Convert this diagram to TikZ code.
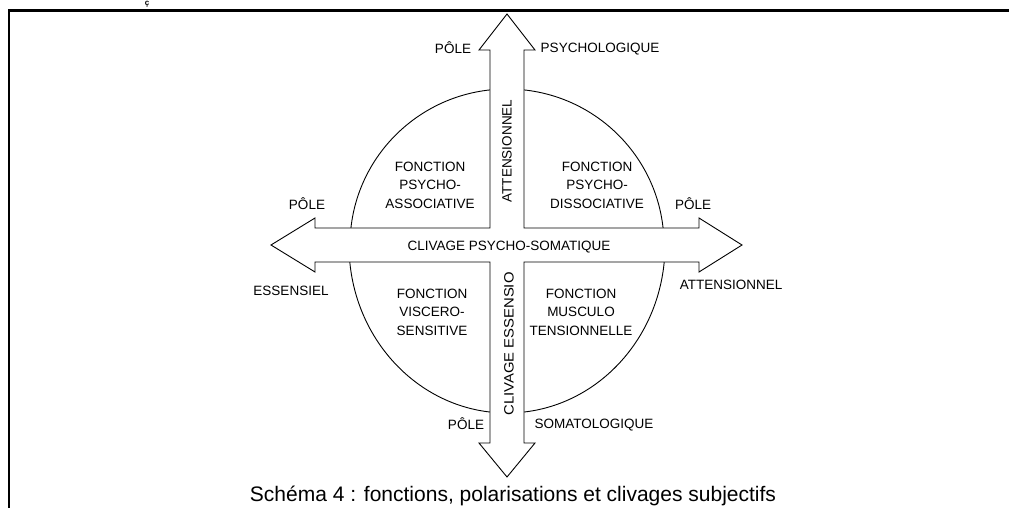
\documentclass[tikz,border=0pt]{standalone}
\usepackage{fontspec}
\setmainfont{Liberation Sans}

\tikzset{
  lbl/.style={font=\fontsize{13.5}{18.5}\selectfont, inner sep=0pt, text depth=0pt},
  fonc/.style={lbl, align=center},
  vlbl/.style={lbl, rotate=90},
  thinline/.style={line width=0.9pt, line join=miter},
}

\begin{document}
\begin{tikzpicture}[x=1pt,y=-1pt]
  \useasboundingbox (0,0) rectangle (1009,508);
  % page frame
  \draw[line width=2.6pt] (9,508) -- (9,10.5) -- (1009,10.5);
  \node[font=\bfseries\fontsize{8}{8}\selectfont, anchor=base, inner sep=0pt] (cedil) at (147,5.5) {ç};
  % the circle, upper and lower halves
  \draw[thinline] (350,245) arc[start angle=180,end angle=360,x radius=157,y radius=156];
  \draw[thinline] (665,245) arc[start angle=0,end angle=180,x radius=158,y radius=168];
  % the cross of arrows
  \draw[thinline,fill=white] (507,14) -- (535,50) -- (524,50) -- (524,228) -- (699,228) -- (699,218)
    -- (742,245) -- (699,272) -- (699,262) -- (524,262) -- (524,443) -- (535,443) -- (507,477)
    -- (479,443) -- (490,443) -- (490,262) -- (315,262) -- (315,272) -- (271,245) -- (315,218)
    -- (315,228) -- (490,228) -- (490,50) -- (479,50) -- cycle;
  % poles
  \node[lbl] (poleN) at (453,48) {PÔLE};
  \node[lbl] (psycho) at (600,48) {PSYCHOLOGIQUE};
  \node[lbl] (poleW) at (307,204) {PÔLE};
  \node[lbl] (poleE) at (693,204) {PÔLE};
  \node[lbl] (essen) at (291,291) {ESSENSIEL};
  \node[lbl] (atten) at (731,285) {ATTENSIONNEL};
  \node[lbl] (poleS) at (466,424) {PÔLE};
  \node[lbl] (somato) at (594,424) {SOMATOLOGIQUE};
  % cleavages
  \node[vlbl] (attenV) at (507,151) {ATTENSIONNEL};
  \node[vlbl] (clivES) at (509,344) {\scalebox{1.1}[1]{CLIVAGE ESSENSIO}};
  \node[lbl] (clivPS) at (509,246) {CLIVAGE PSYCHO-SOMATIQUE};
  % functions
  \node[fonc] (fPA) at (430,185) {FONCTION\\PSYCHO-\\ASSOCIATIVE};
  \node[fonc] (fPD) at (597,185) {FONCTION\\PSYCHO-\\DISSOCIATIVE};
  \node[fonc] (fVS) at (432,312) {FONCTION\\VISCERO-\\SENSITIVE};
  \node[fonc] (fMT) at (581,312) {FONCTION\\MUSCULO\\TENSIONNELLE};
  % caption
  \node[font=\fontsize{21}{24}\selectfont, inner sep=0pt] (caption) at (513,496) {Schéma 4 : fonctions, polarisations et clivages subjectifs};
\end{tikzpicture}
\end{document}
